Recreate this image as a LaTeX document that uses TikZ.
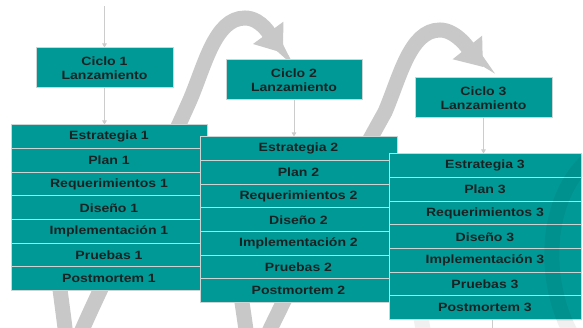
\documentclass[tikz,border=0pt]{standalone}
\usepackage{fontspec}
\newfontfamily\labfont[FakeStretch=1.17]{Liberation Sans}
\usetikzlibrary{arrows.meta}
\definecolor{tealbox}{RGB}{0,153,150}
\definecolor{edge}{RGB}{205,212,212}
\definecolor{band}{RGB}{200,200,200}
\definecolor{faint}{RGB}{240,240,240}
\definecolor{txt}{RGB}{25,35,35}
\begin{document}
\begin{tikzpicture}[x=1pt,y=-1pt,
  box/.style={draw=edge, line width=1pt, fill=tealbox, text=txt,
    font=\labfont\bfseries\fontsize{12}{14}\selectfont, inner sep=0pt, align=center},
  rowbox/.style={box, minimum height=23.65pt},
  feed/.style={draw=gray!40, line width=0.9pt, -{Triangle[width=4.5pt 0 0,length=4pt 0 0]}},
  swirl/.style={draw=band, line width=15pt},
  swirltip/.style={swirl, -{Triangle[width=36pt 0 0,length=25pt 0 0]}},
  faintband/.style={draw=faint, line width=15pt}
]
\useasboundingbox (0,0) rectangle (583,328);
\clip (0,0) rectangle (583,328);
\fill[white] (0,0) rectangle (583,328);

% gray swirl bands
\draw[swirl] (50,200) .. controls (55,260) and (62,300) .. (67,345);
\draw[swirltip] (74,350) .. controls (86,315) and (150,190) .. (190,100)
  .. controls (205,65) and (215,18) .. (245,18)
  .. controls (262,18) and (272,38) .. (283,53);
\draw[swirl] (231,215) .. controls (236,270) and (243,305) .. (248,345);
\draw[swirltip] (256,362) .. controls (268,327) and (335,202) .. (385,112)
  .. controls (400,77) and (410,30) .. (440,30)
  .. controls (457,30) and (471,52) .. (483,67);
\draw[faintband] (412,240) .. controls (416,290) and (421,320) .. (426,345);
\draw[faintband] (600,150) .. controls (540,190) and (540,290) .. (578,345);

% stacks
\foreach \k/\cx/\ty/\w in {1/109/125/196, 2/298.5/137/197, 3/485/154/192}{
  \foreach \rowlab [count=\i] in {Estrategia,Plan,Requerimientos,Diseño,Implementación,Pruebas,Postmortem}
    \node[rowbox, minimum width=\w pt] (s\k-\i) at (\cx, \ty+23.65*\i-11.825) {\rowlab\ \k};
}
\begin{scope}
  \clip (s3-1.north west) rectangle (s3-7.south east);
  \draw[draw=black, opacity=0.05, line width=15pt] (600,150) .. controls (540,190) and (540,290) .. (578,345);
\end{scope}

% launch boxes
\node[box, minimum width=137pt, minimum height=40pt] (c1) at (104.5,68) {Ciclo 1\\Lanzamiento};
\node[box, minimum width=136pt, minimum height=40pt] (c2) at (294,80) {Ciclo 2\\Lanzamiento};
\node[box, minimum width=137pt, minimum height=40pt] (c3) at (483.5,98) {Ciclo 3\\Lanzamiento};

% feed arrows
\coordinate (in1) at (104.5,6);
\draw[feed] (in1) -- (c1.north);
\draw[feed] (c1.south) -- (c1.south |- s1-1.north);
\draw[feed] (c2.south) -- (c2.south |- s2-1.north);
\draw[feed] (c3.south) -- (c3.south |- s3-1.north);
\coordinate (out3) at (492,335);
\draw[draw=gray!40, line width=0.9pt] (out3 |- s3-7.south) -- (out3);
\end{tikzpicture}
\end{document}
